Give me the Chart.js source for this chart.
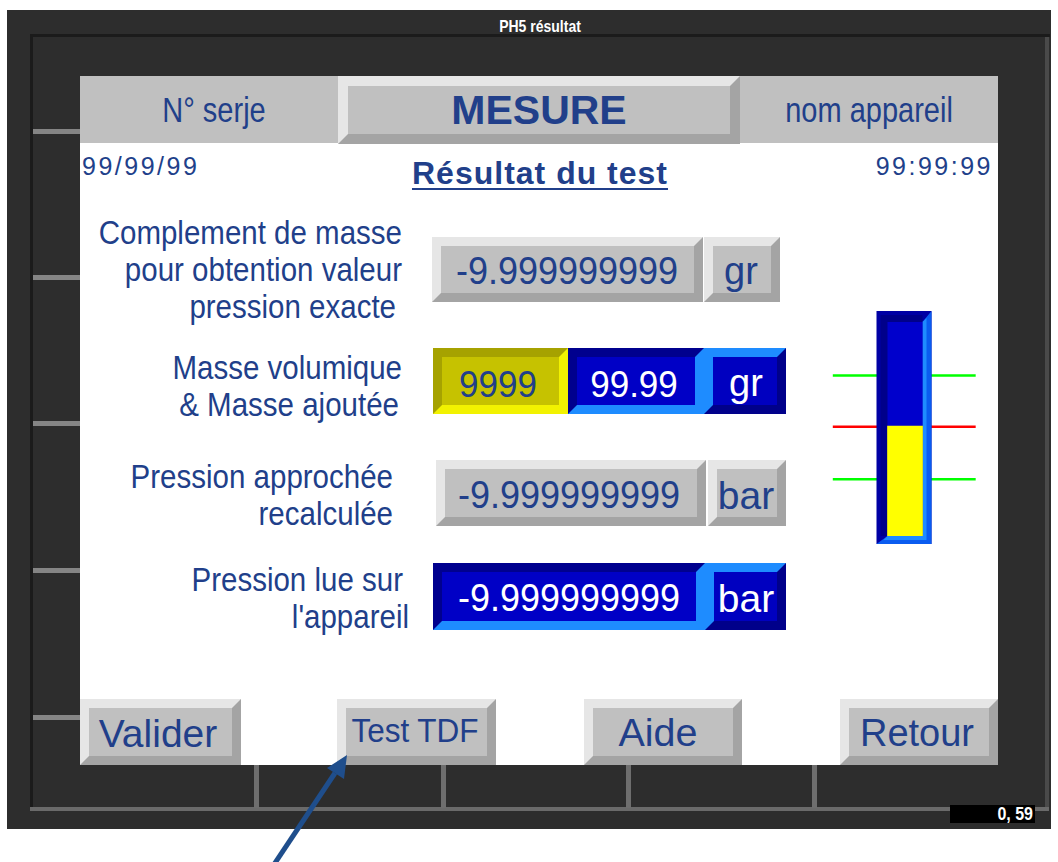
<!DOCTYPE html>
<html>
<head>
<meta charset="utf-8">
<script src="https://cdn.jsdelivr.net/npm/chart.js@4.4.1/dist/chart.umd.min.js"></script>
<style>
html,body{margin:0;padding:0;background:#fff;width:1058px;height:862px;overflow:hidden;font-family:"Liberation Sans",Arial,sans-serif;}
.a{position:absolute;box-sizing:border-box;}
.t{position:absolute;white-space:nowrap;line-height:1;color:#213f8a;}
.c{transform:translate(-50%,-50%) scale(1,1.12);}
.r{transform:translate(-100%,-50%) scale(1,1.12);}
.w{color:#fff;}
.raised{border-style:solid;border-width:9px;border-color:#e6e6e6 #a4a4a4 #a4a4a4 #e6e6e6;background:#c0c0c0;}
.bsunk{border-style:solid;border-width:9px;border-color:#00008e #1e8cff #1e8cff #00008e;background:#0000c6;}
.braised{border-style:solid;border-width:9px;border-color:#1e8cff #00008a #00008a #1e8cff;background:#0000c0;}
.ysunk{border-style:solid;border-width:9px;border-color:#a6a200 #f2f200 #f2f200 #a6a200;background:#c6c200;}
</style>
</head>
<body>
<!-- window -->
<div class="a" style="left:7px;top:10px;width:1044px;height:819px;background:#2d2d2d;"></div>
<div class="t c w" style="left:540px;top:26px;font-size:14px;font-weight:bold;">PH5 résultat</div>
<div class="a" style="left:30px;top:34px;width:1020px;height:3px;background:#1b1b1b;"></div>
<div class="a" style="left:30px;top:34px;width:3px;height:776px;background:#1b1b1b;"></div>
<div class="a" style="left:1045px;top:37px;width:4px;height:773px;background:#4a4a4a;"></div>
<div class="a" style="left:30px;top:807px;width:1019px;height:4px;background:#6a6a6a;"></div>
<div class="a" style="left:33px;top:129px;width:47px;height:5px;background:#858585;"></div>
<div class="a" style="left:33px;top:275px;width:47px;height:5px;background:#858585;"></div>
<div class="a" style="left:33px;top:421px;width:47px;height:5px;background:#858585;"></div>
<div class="a" style="left:33px;top:568px;width:47px;height:5px;background:#858585;"></div>
<div class="a" style="left:33px;top:715px;width:47px;height:5px;background:#858585;"></div>
<div class="a" style="left:254px;top:765px;width:5px;height:43px;background:#6e6e6e;"></div>
<div class="a" style="left:441px;top:765px;width:5px;height:43px;background:#6e6e6e;"></div>
<div class="a" style="left:626px;top:765px;width:5px;height:43px;background:#6e6e6e;"></div>
<div class="a" style="left:812px;top:765px;width:5px;height:43px;background:#6e6e6e;"></div>
<div class="a" style="left:950px;top:805px;width:85px;height:18px;background:#000;"></div>
<div class="t w" style="left:1033px;top:814px;font-size:16px;font-weight:bold;transform:translate(-100%,-50%) scale(1,1.2);">0, 59</div>

<!-- panel -->
<div class="a" style="left:80px;top:76px;width:918px;height:689px;background:#fff;"></div>
<div class="a" style="left:80px;top:76px;width:258px;height:67px;background:#c0c0c0;"></div>
<div class="a" style="left:740px;top:76px;width:258px;height:67px;background:#c0c0c0;"></div>
<div class="a raised" style="left:338px;top:76px;width:402px;height:68px;border-width:10px;"></div>
<div class="t c" style="left:214px;top:111px;font-size:29px;transform:translate(-50%,-50%) scale(1,1.18);">N° serje</div>
<div class="t c" style="left:539px;top:111px;font-size:41px;font-weight:bold;transform:translate(-50%,-50%) scale(1,0.98);">MESURE</div>
<div class="t c" style="left:869px;top:111px;font-size:29px;transform:translate(-50%,-50%) scale(1,1.18);">nom appareil</div>

<div class="t" style="left:82px;top:166px;font-size:25px;letter-spacing:2.5px;transform:translate(0,-50%);">99/99/99</div>
<div class="t" style="left:993px;top:166px;font-size:25px;letter-spacing:2.5px;transform:translate(-100%,-50%);">99:99:99</div>
<div class="t" style="left:540px;top:173px;font-size:32px;font-weight:bold;letter-spacing:1px;text-decoration:underline;text-decoration-thickness:2px;text-underline-offset:4px;transform:translate(-50%,-50%);">Résultat du test</div>

<!-- labels -->
<div class="t r" style="left:402px;top:233px;font-size:29.5px;">Complement de masse</div>
<div class="t r" style="left:402px;top:270px;font-size:29.5px;">pour obtention valeur</div>
<div class="t r" style="left:396px;top:307px;font-size:29.5px;">pression exacte</div>
<div class="t r" style="left:402px;top:368px;font-size:29.5px;">Masse volumique</div>
<div class="t r" style="left:399px;top:405px;font-size:29.5px;">&amp; Masse ajoutée</div>
<div class="t r" style="left:393px;top:477px;font-size:29.5px;">Pression approchée</div>
<div class="t r" style="left:393px;top:514px;font-size:29.5px;">recalculée</div>
<div class="t r" style="left:403px;top:580px;font-size:29.5px;">Pression lue sur</div>
<div class="t r" style="left:409px;top:617px;font-size:29.5px;">l'appareil</div>

<!-- fields -->
<div class="a raised" style="left:432px;top:237px;width:271px;height:65px;"></div>
<div class="a raised" style="left:704px;top:237px;width:76px;height:65px;"></div>
<div class="t c" style="left:567px;top:271px;font-size:36px;transform:translate(-50%,-50%) scale(1,1.08);">-9.999999999</div>
<div class="t c" style="left:741px;top:271px;font-size:38px;transform:translate(-50%,-50%);">gr</div>

<div class="a ysunk" style="left:433px;top:348px;width:135px;height:66px;"></div>
<div class="a bsunk" style="left:568px;top:348px;width:136px;height:66px;"></div>
<div class="a braised" style="left:704px;top:348px;width:82px;height:66px;"></div>
<div class="t c" style="left:498px;top:383px;font-size:35px;transform:translate(-50%,-50%) scale(1,1.08);">9999</div>
<div class="t c w" style="left:634px;top:383px;font-size:35px;transform:translate(-50%,-50%) scale(1,1.08);">99.99</div>
<div class="t c w" style="left:746px;top:383px;font-size:38px;transform:translate(-50%,-50%);">gr</div>

<div class="a raised" style="left:436px;top:460px;width:270px;height:66px;"></div>
<div class="a raised" style="left:708px;top:460px;width:78px;height:66px;"></div>
<div class="t c" style="left:569px;top:495px;font-size:36px;transform:translate(-50%,-50%) scale(1,1.08);">-9.999999999</div>
<div class="t c" style="left:746px;top:495px;font-size:39px;transform:translate(-50%,-50%);">bar</div>

<div class="a bsunk" style="left:433px;top:563px;width:272px;height:67px;"></div>
<div class="a braised" style="left:705px;top:563px;width:81px;height:67px;"></div>
<div class="t c w" style="left:569px;top:598px;font-size:36px;transform:translate(-50%,-50%) scale(1,1.08);">-9.999999999</div>
<div class="t c w" style="left:746px;top:598px;font-size:39px;transform:translate(-50%,-50%);">bar</div>

<!-- buttons -->
<div class="a raised" style="left:80px;top:699px;width:161px;height:66px;"></div>
<div class="a raised" style="left:337px;top:699px;width:159px;height:66px;"></div>
<div class="a raised" style="left:584px;top:699px;width:158px;height:66px;"></div>
<div class="a raised" style="left:840px;top:699px;width:158px;height:66px;"></div>
<div class="t c" style="left:158px;top:733px;font-size:39px;transform:translate(-50%,-50%);">Valider</div>
<div class="t c" style="left:415px;top:731px;font-size:31.5px;transform:translate(-50%,-50%) scale(1,1.06);">Test TDF</div>
<div class="t c" style="left:658px;top:733px;font-size:39.5px;transform:translate(-50%,-50%);">Aide</div>
<div class="t c" style="left:917px;top:733px;font-size:38px;transform:translate(-50%,-50%);">Retour</div>

<!-- gauge chart -->
<div class="a" style="left:829px;top:300px;width:152px;height:250px;">
  <canvas id="gauge" width="152" height="250"></canvas>
</div>

<!-- annotation arrow -->
<svg class="a" style="left:0;top:0;" width="1058" height="862" viewBox="0 0 1058 862">
  <line x1="265" y1="878" x2="335" y2="773" stroke="#1f4e8c" stroke-width="5"/>
  <polygon points="347,755 344,779 327,768" fill="#1f4e8c"/>
</svg>

<script>
// ---- gauge data ----
const gaugeLevel = [51.4];            // current level (% of scale)
const limitNames = ['Limite haute', 'Consigne', 'Limite basse'];
const limitLevels = [75, 51, 26.5];   // threshold levels (% of scale)

// ---- styling / layout config ----
const LIMIT_COLORS = ['#00ff00', '#ff0000', '#00ff00'];
const GAUGE_X = 50, LINE_FROM = 2.5, LINE_TO = 96.5, BAR_W = 35;

const gaugeFrame = {
  id: 'gaugeFrame',
  beforeDatasetDraw(chart, args) {
    if (args.meta.type !== 'bar') return;
    const xs = chart.scales.x, ys = chart.scales.y;
    const cx = xs.getPixelForValue(GAUGE_X);
    const L = cx - BAR_W / 2, R = cx + BAR_W / 2;
    const T = ys.getPixelForValue(ys.max), B = ys.getPixelForValue(ys.min);
    const oL = L - 11, oR = R + 9, oT = T - 11, oB = B + 8;
    const ctx = chart.ctx;
    ctx.save();
    ctx.fillStyle = '#0000a4';
    ctx.fillRect(oL, oT, oR - oL, oB - oT);
    ctx.fillStyle = '#00008a';
    ctx.fillRect(L - 7, T - 7, R - L + 7, B - T + 7);
    ctx.fillStyle = '#0a5cf0';
    ctx.beginPath();
    ctx.moveTo(oR, oT); ctx.lineTo(oR, oB); ctx.lineTo(oL, oB);
    ctx.lineTo(L, B); ctx.lineTo(R, B); ctx.lineTo(R, T);
    ctx.closePath(); ctx.fill();
    ctx.fillStyle = '#1e8cff';
    ctx.beginPath();
    ctx.moveTo(R + 4, T - 4); ctx.lineTo(R + 4, B + 4); ctx.lineTo(L - 4, B + 4);
    ctx.lineTo(L, B); ctx.lineTo(R, B); ctx.lineTo(R, T);
    ctx.closePath(); ctx.fill();
    ctx.fillStyle = '#0000cc';
    ctx.fillRect(L, T, R - L, B - T);
    ctx.restore();
  }
};

const limitDatasets = limitLevels.map((v, i) => ({
  type: 'line',
  label: limitNames[i],
  data: [{x: LINE_FROM, y: v}, {x: LINE_TO, y: v}],
  borderColor: LIMIT_COLORS[i],
  borderWidth: 2.5,
  pointRadius: 0,
  tension: 0,
  order: 2
}));

new Chart(document.getElementById('gauge'), {
  type: 'bar',
  data: {
    datasets: [
      {
        type: 'bar',
        label: 'Niveau',
        data: gaugeLevel.map(v => ({x: GAUGE_X, y: v})),
        backgroundColor: '#ffff00',
        borderWidth: 0,
        barThickness: BAR_W,
        grouped: false,
        order: 1
      },
      ...limitDatasets
    ]
  },
  options: {
    responsive: false,
    animation: false,
    devicePixelRatio: 1,
    layout: { padding: { top: 22, bottom: 14, left: 0, right: 0 } },
    plugins: { legend: { display: false }, tooltip: { enabled: false } },
    scales: {
      x: { type: 'linear', display: false, min: 0, max: 100, offset: false, grid: { offset: false } },
      y: { type: 'linear', display: false, min: 0, max: 100 }
    }
  },
  plugins: [gaugeFrame]
});
</script>
</body>
</html>
